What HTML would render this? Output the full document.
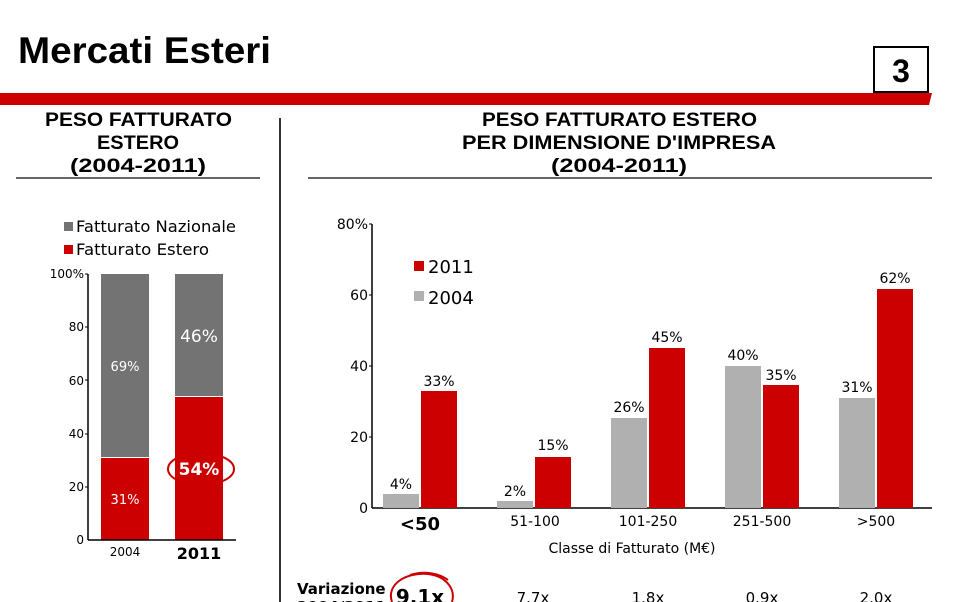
<!DOCTYPE html>
<html><head><meta charset="utf-8"><style>
body{margin:0;background:#fff;}
svg{display:block;font-family:"DejaVu Sans","Liberation Sans",sans-serif;}
</style></head><body>
<svg width="960" height="602" viewBox="0 0 960 602" xmlns="http://www.w3.org/2000/svg">
<text x="18" y="63" font-family="Liberation Sans" font-weight="bold" font-size="37" textLength="253" lengthAdjust="spacingAndGlyphs" fill="#000">Mercati Esteri</text>
<rect x="874" y="47" width="54" height="45" fill="#fff" stroke="#000" stroke-width="2"/>
<text x="901" y="82" font-family="Liberation Sans" font-weight="bold" font-size="32" text-anchor="middle">3</text>
<polygon points="0,93 932,93 929,105 0,105" fill="#cc0000"/>
<line x1="280" y1="118" x2="280" y2="602" stroke="#333" stroke-width="2"/>
<g font-family="Liberation Sans" font-weight="bold" font-size="19" lengthAdjust="spacingAndGlyphs">
<text x="45" y="126" textLength="187" lengthAdjust="spacingAndGlyphs">PESO FATTURATO</text>
<text x="97" y="149" textLength="82" lengthAdjust="spacingAndGlyphs">ESTERO</text>
<text x="70" y="172" textLength="136" lengthAdjust="spacingAndGlyphs">(2004-2011)</text>
<text x="482" y="126" textLength="275" lengthAdjust="spacingAndGlyphs">PESO FATTURATO ESTERO</text>
<text x="462" y="149" textLength="314" lengthAdjust="spacingAndGlyphs">PER DIMENSIONE D'IMPRESA</text>
<text x="551" y="172" textLength="136" lengthAdjust="spacingAndGlyphs">(2004-2011)</text>
</g>
<line x1="16" y1="178" x2="260" y2="178" stroke="#333" stroke-width="1.5"/>
<line x1="308" y1="178" x2="932" y2="178" stroke="#333" stroke-width="1.5"/>
<rect x="64" y="222" width="9" height="9" fill="#737373"/>
<text x="76" y="232" font-size="16" textLength="160" lengthAdjust="spacingAndGlyphs">Fatturato Nazionale</text>
<rect x="64" y="245" width="9" height="9" fill="#cc0000"/>
<text x="76" y="255" font-size="16" textLength="133" lengthAdjust="spacingAndGlyphs">Fatturato Estero</text>
<rect x="101" y="274" width="48" height="183" fill="#737373"/>
<rect x="101" y="458" width="48" height="82" fill="#cc0000"/>
<rect x="175" y="274" width="48" height="122" fill="#737373"/>
<rect x="175" y="397" width="48" height="143" fill="#cc0000"/>
<line x1="88" y1="274" x2="88" y2="540" stroke="#000" stroke-width="1.5"/>
<line x1="88" y1="540" x2="236" y2="540" stroke="#000" stroke-width="1.5"/>
<g font-size="12" text-anchor="end">
<text x="84" y="278">100%</text><text x="84" y="331">80</text><text x="84" y="385">60</text><text x="84" y="438">40</text><text x="84" y="491">20</text><text x="84" y="544">0</text>
</g>
<g stroke="#000"><line x1="85" y1="274" x2="88" y2="274"/><line x1="85" y1="327" x2="88" y2="327"/><line x1="85" y1="380" x2="88" y2="380"/><line x1="85" y1="434" x2="88" y2="434"/><line x1="85" y1="487" x2="88" y2="487"/></g>
<text x="125" y="371" font-size="13" fill="#fff" text-anchor="middle">69%</text>
<text x="125" y="504" font-size="13" fill="#fff" text-anchor="middle">31%</text>
<text x="199" y="342" font-size="17" fill="#fff" text-anchor="middle">46%</text>
<text x="199" y="475" font-size="17" font-weight="bold" fill="#fff" text-anchor="middle">54%</text>
<ellipse cx="201" cy="469" rx="33" ry="16" fill="none" stroke="#cc0000" stroke-width="2"/>
<text x="125" y="556" font-size="12" text-anchor="middle">2004</text>
<text x="199" y="559" font-size="16" font-weight="bold" text-anchor="middle">2011</text>
<line x1="372" y1="224" x2="372" y2="508" stroke="#000" stroke-width="1.5"/>
<line x1="372" y1="508" x2="932" y2="508" stroke="#000" stroke-width="1.5"/>
<g font-size="14" text-anchor="end">
<text x="368" y="229">80%</text><text x="368" y="300">60</text><text x="368" y="371">40</text><text x="368" y="442">20</text><text x="368" y="513">0</text>
</g>
<g stroke="#000"><line x1="369" y1="224" x2="372" y2="224"/><line x1="369" y1="295" x2="372" y2="295"/><line x1="369" y1="366" x2="372" y2="366"/><line x1="369" y1="437" x2="372" y2="437"/></g>
<rect x="414" y="261" width="10" height="10" fill="#cc0000"/>
<text x="428" y="273" font-size="18">2011</text>
<rect x="414" y="291" width="10" height="10" fill="#b0b0b0"/>
<text x="428" y="304" font-size="18">2004</text>
<g>
<rect x="383" y="494" width="36" height="14" fill="#b0b0b0"/><rect x="421" y="391" width="36" height="117" fill="#cc0000"/>
<rect x="497" y="501" width="36" height="7" fill="#b0b0b0"/><rect x="535" y="457" width="36" height="51" fill="#cc0000"/>
<rect x="611" y="418" width="36" height="90" fill="#b0b0b0"/><rect x="649" y="348" width="36" height="160" fill="#cc0000"/>
<rect x="725" y="366" width="36" height="142" fill="#b0b0b0"/><rect x="763" y="385" width="36" height="123" fill="#cc0000"/>
<rect x="839" y="398" width="36" height="110" fill="#b0b0b0"/><rect x="877" y="289" width="36" height="219" fill="#cc0000"/>
</g>
<g font-size="14" text-anchor="middle">
<text x="401" y="489">4%</text><text x="439" y="386">33%</text>
<text x="515" y="496">2%</text><text x="553" y="450">15%</text>
<text x="629" y="412">26%</text><text x="667" y="342">45%</text>
<text x="743" y="360">40%</text><text x="781" y="380">35%</text>
<text x="857" y="392">31%</text><text x="895" y="283">62%</text>
</g>
<text x="420" y="530" font-size="18" font-weight="bold" text-anchor="middle">&lt;50</text>
<g font-size="14" text-anchor="middle">
<text x="535" y="526">51-100</text><text x="648" y="526">101-250</text><text x="762" y="526">251-500</text><text x="876" y="526">&gt;500</text>
<text x="632" y="553">Classe di Fatturato (M€)</text>
</g>
<text x="297" y="594" font-size="15" font-weight="bold">Variazione</text>
<text x="297" y="612" font-size="15" font-weight="bold">2004/2011</text>
<text x="420" y="604" font-size="20" font-weight="bold" text-anchor="middle">9.1x</text>
<path d="M392,602 C386,585 405,572 428,574 C445,576 456,588 452,602" fill="none" stroke="#cc0000" stroke-width="2"/>
<path d="M410,575 C425,570 440,574 448,580" fill="none" stroke="#cc0000" stroke-width="2"/>
<g font-size="15" text-anchor="middle">
<text x="533" y="603">7.7x</text><text x="648" y="603">1.8x</text><text x="762" y="603">0.9x</text><text x="876" y="603">2.0x</text>
</g>
</svg>
</body></html>
